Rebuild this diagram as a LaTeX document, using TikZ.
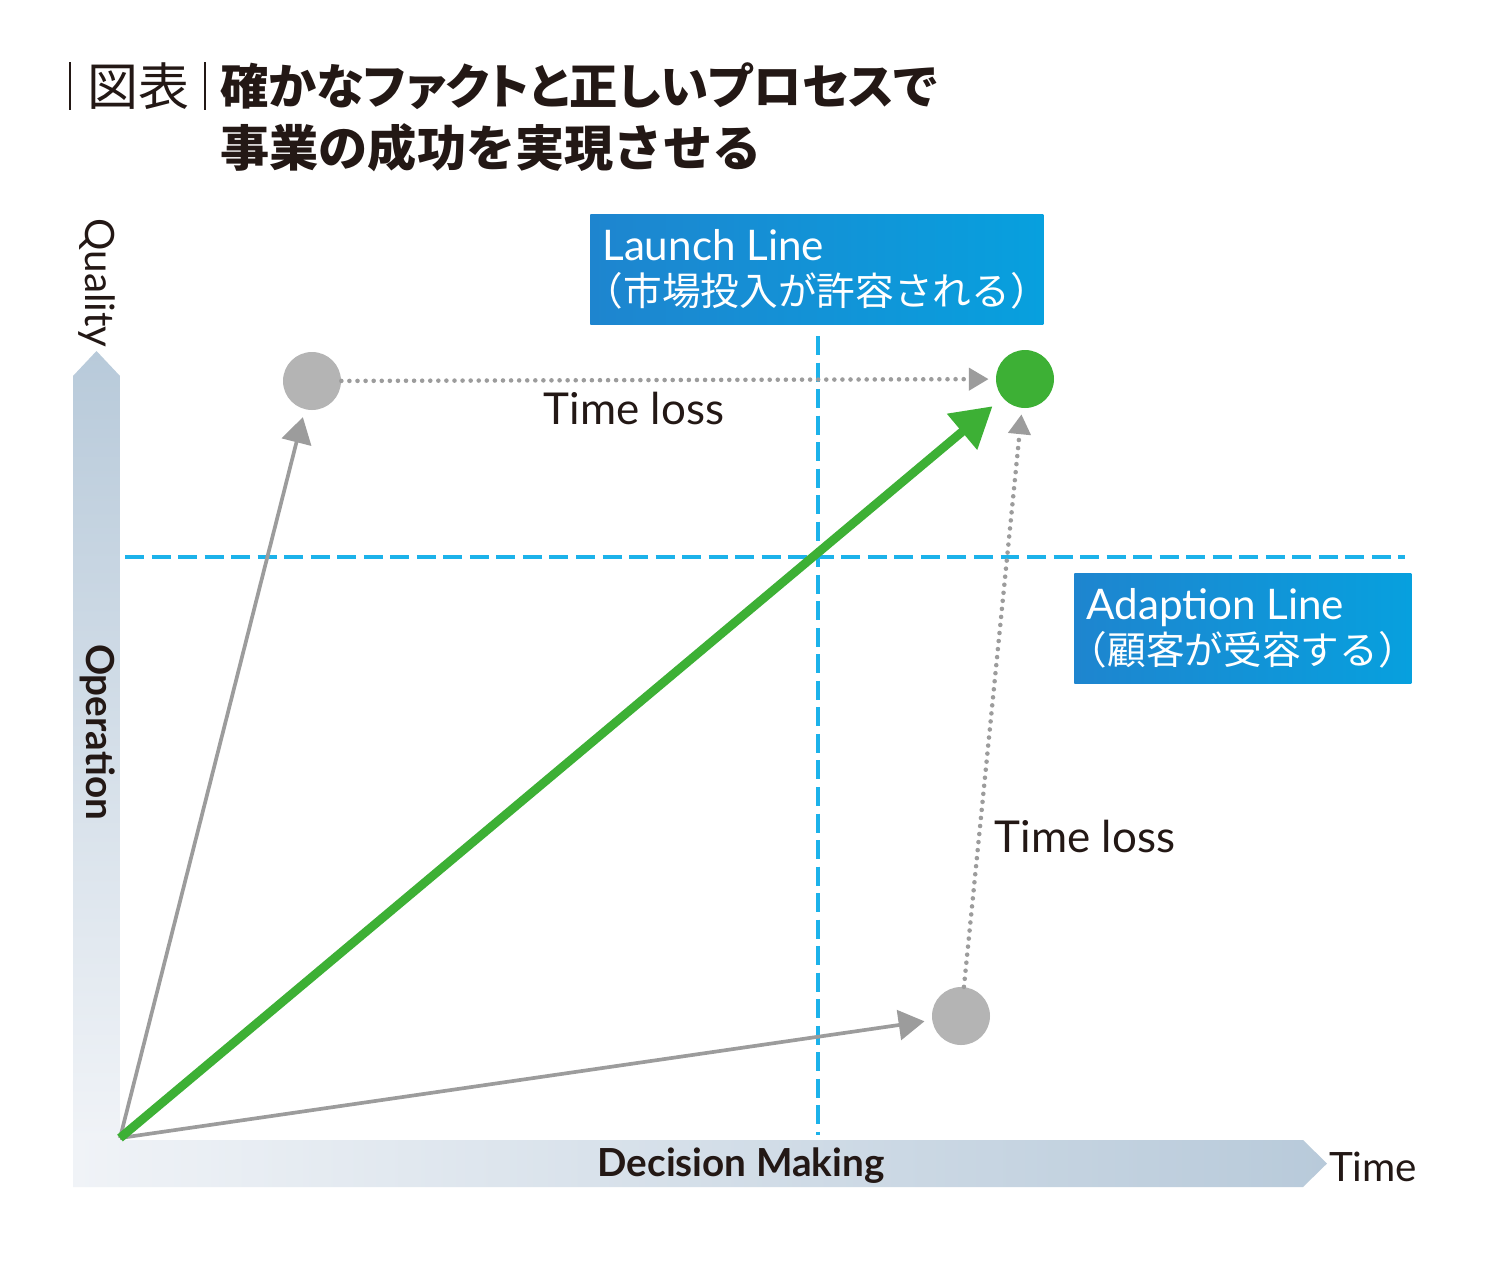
\documentclass[tikz,border=0pt]{standalone}
\usepackage{fontspec}
\usepackage{tikz}
\usetikzlibrary{arrows.meta}
\setmainfont{Lato}
\newfontfamily\jpfont{Noto Sans CJK JP}
\newfontfamily\jppfont[RawFeature=+palt]{Noto Sans CJK JP}
\definecolor{lgreen}{HTML}{3DB035}
\definecolor{lgray}{HTML}{B4B4B4}
\definecolor{agray}{HTML}{9C9C9C}
\definecolor{dcyan}{HTML}{1CB2EA}
\definecolor{boxl}{HTML}{1E85CF}
\definecolor{boxr}{HTML}{07A0DE}
\definecolor{axdark}{HTML}{B8CADA}
\definecolor{axlight}{HTML}{F0F3F7}
\definecolor{ink}{HTML}{231815}
\tikzset{dot/.style = {circle, fill=lgray, inner sep=0pt, minimum size=1.16cm},
  gdot/.style = {dot, fill=lgreen},
  grayarrow/.style = {draw=agray, line width=2.1pt, -{Triangle[length=14.7pt, width=17pt]}},
  greenarrow/.style = {draw=lgreen, line width=5pt, -{Triangle[length=22.7pt, width=25.5pt]}},
  lossline/.style = {draw=agray, line width=2.6pt, line cap=round, dash pattern=on 0pt off 4.6pt, -{Triangle[length=11.3pt, width=12.5pt, line cap=butt]}},
  limitline/.style = {draw=dcyan, line width=2.5pt, dash pattern=on 10.8pt off 4.3pt},
  linebox/.style = {left color=boxl, right color=boxr, text=white, align=left, anchor=north west, inner xsep=0.24cm, inner ysep=0pt, minimum height=2.2cm, font=\fontsize{24}{26}\selectfont}}
\begin{document}
\begin{tikzpicture}[x=0.02cm, y=-0.02cm]
  \useasboundingbox[fill=white] (0,0) rectangle (1500,1262);

  % title
  \draw[ink, line width=0.9pt] (70,62) -- (70,110);
  \draw[ink, line width=0.9pt] (205,62) -- (205,110);
  \node[text=ink, font=\jpfont\fontsize{29}{30}\selectfont] (zuhyo) at (138,86) {図表};
  \node[text=ink, anchor=west, inner sep=0pt, font=\jppfont\bfseries\fontsize{27.5}{30}\selectfont] (title1) at (220,86) {確かなファクトと正しいプロセスで};
  \node[text=ink, anchor=west, inner sep=0pt, font=\jpfont\bfseries\fontsize{28}{30}\selectfont] (title2) at (220,148) {事業の成功を実現させる};

  % axes
  \shade[top color=axdark, bottom color=axlight] (73,1140) -- (73,376) -- (96.5,351) -- (120,376) -- (120,1140) -- cycle;
  \shade[left color=axlight, right color=axdark] (73,1140) -- (1303,1140) -- (1327,1163.5) -- (1303,1187) -- (73,1187) -- cycle;
  \node[rotate=-90, text=ink, font=\fontsize{23}{24}\selectfont] (quality) at (97,283) {Quality};
  \node[rotate=-90, text=ink, font=\bfseries\fontsize{22}{24}\selectfont] (operation) at (98,732) {Operation};
  \node[text=ink, font=\bfseries\fontsize{22}{24}\selectfont] (decision) at (741,1166) {Decision Making};
  \node[text=ink, font=\fontsize{23}{24}\selectfont] (time) at (1373,1167) {Time};

  % launch / adaption lines
  \coordinate (vtop) at (818,336);
  \coordinate (vbot) at (818,1135);
  \coordinate (hleft) at (125,557);
  \coordinate (hright) at (1405,557);
  \draw[limitline] (vtop) -- (vbot);
  \draw[limitline] (hleft) -- (hright);
  \node[linebox, minimum width=9cm] (launch) at (590,214) {Launch Line\\{\jpfont\fontsize{22}{24}\selectfont\kern-.45em （市場投入が許容される）\kern-.45em}};
  \node[linebox, minimum width=6.64cm] (adaption) at (1074,573) {Adaption Line\\{\jpfont\fontsize{22}{24}\selectfont\kern-.45em （顧客が受容する）\kern-.45em}};

  % points
  \coordinate (o) at (120,1138);
  \node[dot] (quick) at (312,381) {};
  \node[dot] (slow) at (961,1016) {};
  \node[gdot] (goal) at (1025,379) {};

  \draw[lossline, shorten >=4pt] (quick) -- (goal);
  \draw[lossline, shorten >=3.5pt] (slow) -- (goal);
  \draw[grayarrow, shorten >=4.5pt] (o) -- (quick);
  \draw[grayarrow, shorten >=4.3pt] (o) -- (slow);
  \draw[greenarrow, shorten >=7.4pt] (o) -- (goal);

  \node[text=ink, font=\fontsize{25}{26}\selectfont] (loss1) at (634,408) {Time loss};
  \node[text=ink, font=\fontsize{25}{26}\selectfont] (loss2) at (1085,836) {Time loss};
\end{tikzpicture}
\end{document}
